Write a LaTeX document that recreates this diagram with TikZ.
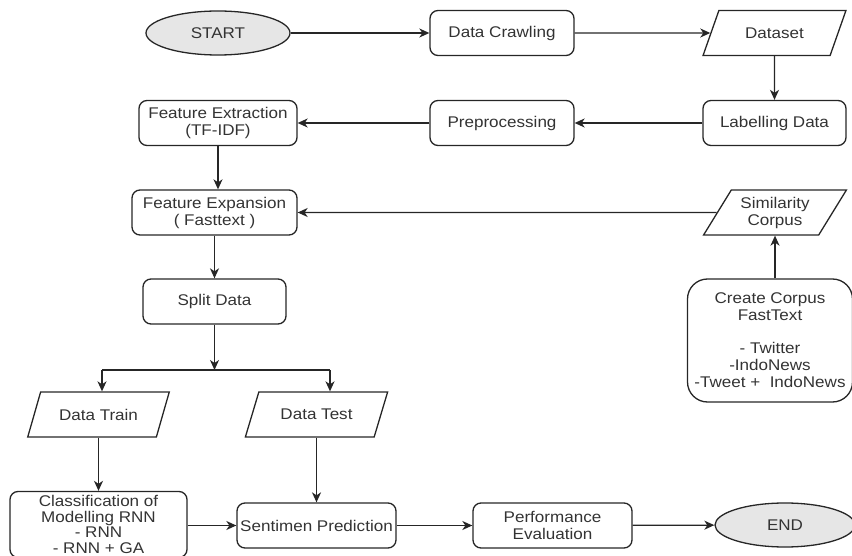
\documentclass[tikz,border=0pt]{standalone}
\usepackage{fontspec}
\setmainfont{Liberation Sans}[FakeStretch=1.1]
\usepackage{tikz}
\usetikzlibrary{shapes.geometric,arrows.meta}
\definecolor{flowline}{HTML}{262626}
\definecolor{flowtext}{HTML}{333333}
\definecolor{termgray}{HTML}{E6E6E6}

\begin{document}
\begin{tikzpicture}[x=1pt,y=-1pt,
  font=\fontsize{15.5}{17}\selectfont,
  every node/.style={text=flowtext,align=center,inner sep=1pt},
  procbox/.style={draw=flowline,line width=1.3pt,rounded corners=8pt,minimum width=#1,minimum height=45pt},
  procbox/.default=144pt,
  databox/.style={draw=flowline,line width=1.3pt,trapezium,trapezium left angle=56,trapezium right angle=124,
    trapezium stretches=true,minimum width=143pt,minimum height=45pt},
  termbox/.style={draw=flowline,line width=1.3pt,ellipse,fill=termgray,minimum width=#1,minimum height=44pt},
  termbox/.default=144pt,
  arr/.style={draw=flowline,line width=1.3pt,-{Stealth[length=10pt,width=9pt,inset=3pt]}}]
  \useasboundingbox (0,0) rectangle (852,556);
  % top row
  \node[termbox] (start) at (218,33) {START};
  \node[procbox] (crawl) at (502,33) {Data Crawling};
  \node[databox] (dataset) at (774.5,33) {Dataset};
  % second row
  \node[procbox=143pt] (label) at (774.5,123) {Labelling Data};
  \node[procbox] (prep) at (502,123) {Preprocessing};
  \node[procbox=158pt] (extract) at (218,123) {Feature Extraction\\(TF-IDF)};
  % features and corpus
  \node[procbox=165pt] (expand) at (214.5,212.5) {Feature Expansion\\( Fasttext )};
  \node[databox] (simcorp) at (775,212.5) {Similarity\\Corpus};
  \node[procbox=165pt,minimum height=123pt,rounded corners=20pt] (corpus) at (770,340.5)
    {Create Corpus\\FastText\\[16pt]- Twitter\\-IndoNews\\-Tweet +~ IndoNews};
  \node[procbox=143pt] (split) at (214.5,301.5) {Split Data};
  % split branches
  \node[databox] (train) at (98.5,414.5) {Data Train};
  \node[databox] (test) at (316.5,414.5) {Data Test};
  \coordinate (br) at (214.5,370);
  \coordinate (brl) at (102,370);
  \coordinate (brr) at (330,370);
  % bottom row
  \node[procbox=177pt,minimum height=66pt,font=\fontsize{15.5}{15.5}\selectfont] (classif) at (98.5,524.5)
    {Classification of\\Modelling RNN\\- RNN\\- RNN + GA};
  \node[procbox=159pt] (predict) at (316.5,525.5) {Sentimen Prediction};
  \node[procbox=159pt] (perf) at (552.5,525.5) {Performance\\Evaluation};
  \node[termbox=140pt] (endn) at (785,525) {END};

  \draw[arr] (start) -- (crawl);
  \draw[arr] (crawl) -- (dataset);
  \draw[arr] (dataset) -- (label);
  \draw[arr] (label) -- (prep);
  \draw[arr] (prep) -- (extract);
  \draw[arr] (extract.south) -- (extract.south |- expand.north);
  \draw[arr] (simcorp) -- (expand);
  \draw[arr] (corpus.north -| simcorp.south) -- (simcorp.south);
  \draw[arr] (expand.south) -- (expand.south |- split.north);
  \draw[arr] (split) -- (br);
  \draw[draw=flowline,line width=1.3pt] (brl) -- (brr);
  \draw[arr] (brl) -- (brl |- train.north);
  \draw[arr] (brr) -- (brr |- test.north);
  \draw[arr] (train.south -| classif.north) -- (classif.north);
  \draw[arr] (test.south) -- (test.south |- predict.north);
  \draw[arr] (classif.east |- predict.west) -- (predict.west);
  \draw[arr] (predict) -- (perf);
  \draw[arr] (perf) -- (endn);
\end{tikzpicture}
\end{document}
